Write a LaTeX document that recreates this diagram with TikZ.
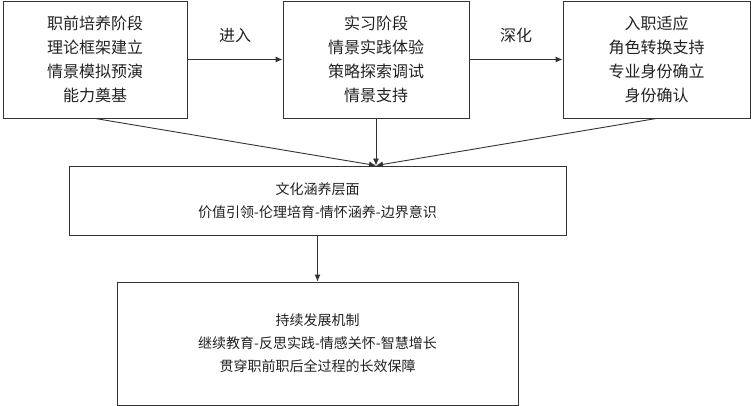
\documentclass[tikz,border=0pt]{standalone}
\usepackage{fontspec}
\setmainfont{Noto Sans CJK SC}
\usepackage{tikz}
\usetikzlibrary{positioning}
\usetikzlibrary{arrows.meta}
\definecolor{linegray}{rgb}{0.2,0.2,0.2}
\definecolor{textgray}{rgb}{0.13,0.13,0.13}

\begin{document}
\begin{tikzpicture}[x=1pt,y=-1pt,
box/.style={draw=linegray, line width=0.9pt, align=center, text=textgray, inner sep=0pt,
font=\fontsize{16}{24}\selectfont},
smallbox/.style={box, font=\fontsize{14}{23}\selectfont},
conn/.style={draw=linegray, line width=0.9pt, -{Latex[length=7pt,width=6pt]}},
lbl/.style={text=textgray, font=\fontsize{16}{18}\selectfont}]
\useasboundingbox (0,0) rectangle (752,406);
\node[box, minimum width=184pt, minimum height=117pt] (pre) at (95,59.5) {职前培养阶段\\理论框架建立\\情景模拟预演\\能力奠基};
\node[box, minimum width=186pt, minimum height=117pt] (intern) at (376,59.5) {实习阶段\\情景实践体验\\策略探索调试\\情景支持};
\node[box, minimum width=187pt, minimum height=117pt] (adapt) at (656.5,59.5) {入职适应\\角色转换支持\\专业身份确立\\身份确认};
\node[smallbox, minimum width=497pt, minimum height=69pt] (culture) at (317.5,200.5) {文化涵养层面\\价值引领-伦理培育-情怀涵养-边界意识};
\node[smallbox, minimum width=401pt, minimum height=123pt] (sustain) at (317.5,343.5) {持续发展机制\\继续教育-反思实践-情感关怀-智慧增长\\贯穿职前职后全过程的长效保障};
\coordinate (hub) at (intern.south |- culture.north);
\draw[conn] (pre) -- (intern) node[lbl, midway, above=13pt] (enter) {进入};
\draw[conn] (intern) -- (adapt) node[lbl, midway, above=13pt] (deepen) {深化};
\draw[conn] (pre.south) -- (hub);
\draw[conn] (intern.south) -- (hub);
\draw[conn] (adapt.south) -- (hub);
\draw[conn] (culture.south) -- (sustain.north);
\end{tikzpicture}
\end{document}
